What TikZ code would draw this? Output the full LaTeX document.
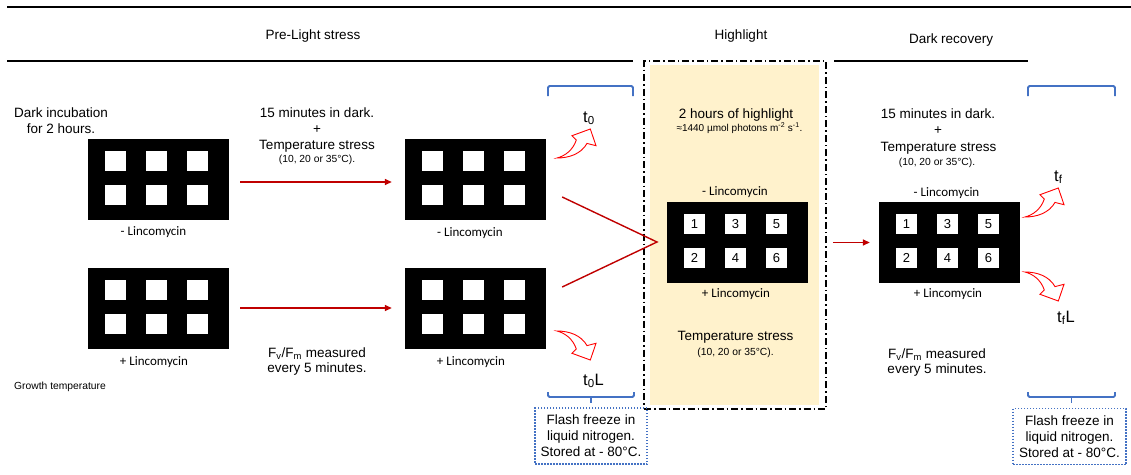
\documentclass[tikz,border=0pt]{standalone}
\usepackage{fontspec}
\setmainfont{Liberation Sans}
\newfontfamily\carl{Carlito}
\usetikzlibrary{arrows.meta,calc}
\definecolor{darkred}{HTML}{C00000}
\definecolor{brblue}{HTML}{4472C4}
\definecolor{hlfill}{HTML}{FFF2CC}
\tikzset{
  txt/.style={inner sep=0pt,anchor=base,font=\fontsize{13.5}{16}\selectfont},
  smalltxt/.style={inner sep=0pt,anchor=base,font=\fontsize{10.3}{12}\selectfont},
  lab/.style={inner sep=0pt,anchor=base,font=\carl\fontsize{13}{15}\selectfont},
  tlab/.style={inner sep=0pt,anchor=base west,font=\fontsize{16.5}{18}\selectfont},
  plate/.style={fill=black,minimum width=141pt,minimum height=81pt,inner sep=0pt},
  well/.style={fill=white,minimum width=21.5pt,minimum height=20pt,inner sep=0pt,font=\fontsize{13}{15}\selectfont},
  redarr/.style={draw=darkred,line width=1.4pt,-{Triangle[length=7pt,width=6pt]}},
  redline/.style={draw=darkred,line width=1.4pt},
  curv/.style={draw=red,fill=white,line width=0.9pt,line join=miter},
  bracket/.style={draw=brblue,line width=1.8pt,rounded corners=1.5pt},
  frz/.style={draw=brblue,line width=1.5pt,dash pattern=on 1.5pt off 1.5pt,minimum width=112pt,minimum height=56pt,inner sep=0pt,align=center,font=\fontsize{13.5}{16}\selectfont},
  hlbox/.style={draw=black,line width=1.8pt,dash pattern=on 7pt off 3pt on 1.5pt off 3pt,minimum width=182pt,minimum height=348pt,inner sep=0pt},
  curvup/.pic={\path[curv] (0,0) .. controls (8,-2) and (16,-8) .. (19.3,-18) -- (15,-22.3) -- (33.3,-29) -- (39,-12.3) -- (30,-14.6) .. controls (24,-4) and (12,0) .. (0,0) -- cycle;}
}
\newcommand\myplate[4]{%
  \node[plate] (#1) at (#2+70.5,#3+40.5) {};
  \node[well] (#1w1) at ([shift={(27.75,22)}]#1.north west) {#4};
  \node[well] (#1w3) at ([shift={(68.75,22)}]#1.north west) {\ifx&#4&\else 3\fi};
  \node[well] (#1w5) at ([shift={(109.75,22)}]#1.north west) {\ifx&#4&\else 5\fi};
  \node[well] (#1w2) at ([shift={(27.75,56)}]#1.north west) {\ifx&#4&\else 2\fi};
  \node[well] (#1w4) at ([shift={(68.75,56)}]#1.north west) {\ifx&#4&\else 4\fi};
  \node[well] (#1w6) at ([shift={(109.75,56)}]#1.north west) {\ifx&#4&\else 6\fi};
}
\begin{document}
\begin{tikzpicture}[x=1pt,y=-1pt]
\useasboundingbox[fill=white] (0,0) rectangle (1131,474);
% header lines
\draw[line width=2pt] (7,7) -- (1131,7);
\draw[line width=1.8pt] (7,61) -- (633,61);
\draw[line width=1.8pt] (834,61) -- (1028,61);
\node[txt] (h1) at (313,39) {Pre-Light stress};
\node[txt] (h2) at (741,39) {Highlight};
\node[txt] (h3) at (951,43) {Dark recovery};
% highlight panel
\fill[hlfill] (650,65) rectangle (819,405);
\node[hlbox] (hl) at (735,235) {};
% plates
\myplate{A}{88}{139}{}
\myplate{B}{88}{268}{}
\myplate{C}{405}{139}{}
\myplate{D}{405}{268}{}
\myplate{E}{667}{202}{1}
\myplate{F}{879}{202}{1}
% plate labels
\node[lab] (lA) at (153.5,235) {- Lincomycin};
\node[lab] (lB) at (154,365) {+ Lincomycin};
\node[lab] (lC) at (470,236) {- Lincomycin};
\node[lab] (lD) at (471,365) {+ Lincomycin};
\node[lab] (lE) at (735,195) {- Lincomycin};
\node[lab] (lE2) at (736,297) {+ Lincomycin};
\node[lab] (lF) at (946.5,196) {- Lincomycin};
\node[lab] (lF2) at (948,297) {+ Lincomycin};
% left texts
\node[txt] (d1) at (61,117) {Dark incubation};
\node[txt] (d2) at (61,133) {for 2 hours.};
\node[smalltxt,anchor=base west] (gt) at (14,389) {Growth temperature};
\node[txt] (m1) at (317,117) {15 minutes in dark.};
\node[txt] (m2) at (317,133) {+};
\node[txt] (m3) at (317,149) {Temperature stress};
\node[smalltxt] (m4) at (317,162) {(10, 20 or 35°C).};
\node[txt] (f1) at (317,357) {F\textsubscript{v}/F\textsubscript{m} measured};
\node[txt] (f2) at (317,372) {every 5 minutes.};
% highlight texts
\node[txt] (k1) at (736,118) {2 hours of highlight};
\node[inner sep=0pt,anchor=base,font=\fontsize{10}{12}\selectfont] (k2) at (739.5,131) {≈1440 µmol photons m\textsuperscript{-2} s\textsuperscript{-1}.};
\node[txt] (k3) at (735.5,340) {Temperature stress};
\node[smalltxt] (k4) at (735.5,355) {(10, 20 or 35°C).};
% right texts
\node[txt] (r1) at (938,118) {15 minutes in dark.};
\node[txt] (r2) at (938,134) {+};
\node[txt] (r3) at (938.5,151) {Temperature stress};
\node[smalltxt] (r4) at (937,165) {(10, 20 or 35°C).};
\node[txt] (g1) at (937,358) {F\textsubscript{v}/F\textsubscript{m} measured};
\node[txt] (g2) at (937,373) {every 5 minutes.};
% connectors
\draw[redarr] ([xshift=11pt,yshift=-2.5pt]A.east) -- ([xshift=-13pt,yshift=-2.5pt]C.west);
\draw[redarr] ([xshift=11pt,yshift=0.5pt]B.east) -- ([xshift=-13pt,yshift=0.5pt]D.west);
\coordinate (conv) at (657,242);
\draw[redline,line join=miter] ([xshift=16pt,yshift=-17.5pt]C.east) -- (conv) -- ([xshift=16pt,yshift=21.5pt]D.east);
\draw[redarr] ($(hl.east |- F.west)+(6,0)$) -- ([xshift=-9pt]F.west);
% curved arrows and time labels
\pic at (557,158) {curvup};
\pic[yscale=-1] at (557,331) {curvup};
\pic at (1025,217) {curvup};
\pic[yscale=-1] at (1025,272) {curvup};
\node[tlab] (t0) at (583,122) {t\textsubscript{0}};
\node[tlab] (t0L) at (583,385) {t\textsubscript{0}L};
\node[tlab] (tf) at (1054,181) {t\textsubscript{f}};
\node[tlab] (tfL) at (1057,322) {t\textsubscript{f}L};
% brackets
\draw[bracket] (548,96) -- (548,86) -- (633,86) -- (633,96);
\draw[bracket] (1028,96) -- (1028,86) -- (1115,86) -- (1115,96);
\draw[bracket] (548,392) -- (548,397) -- (634,397) -- (634,392);
\draw[bracket,rounded corners=0pt] (591,397) -- (591,403);
\draw[bracket] (1028,392) -- (1028,397) -- (1115,397) -- (1115,392);
\draw[bracket,rounded corners=0pt] (1071.5,397) -- (1071.5,403);
% freeze boxes
\node[frz] (zL) at (591,436) {Flash freeze in\\liquid nitrogen.\\Stored at - 80°C.};
\node[frz,minimum width=113pt] (zR) at (1069.5,436.5) {Flash freeze in\\liquid nitrogen.\\Stored at - 80°C.};
\end{tikzpicture}
\end{document}
